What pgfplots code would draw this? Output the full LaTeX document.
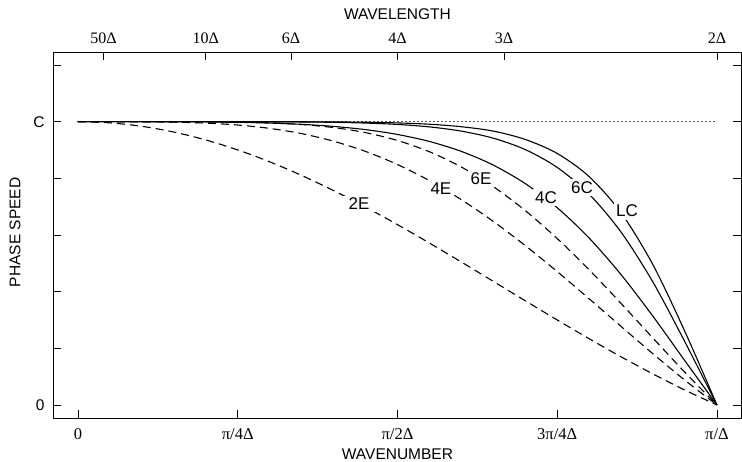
\documentclass[border=0pt]{standalone}
\usepackage{fontspec}
\setmainfont{Liberation Serif}
\setsansfont{Liberation Sans}
\usepackage{pgfplots}
\usepackage{pgfplotstable}
\pgfplotsset{compat=1.18}

\pgfplotstableread{
f    E2      E4      E6      C4      C6      LC
0.00 1.00000 1.00000 1.00000 1.00000 1.00000 1.00000
0.05 0.99589 0.99998 1.00000 0.99999 0.99999 1.00000
0.10 0.98363 0.99968 0.99999 0.99995 1.00000 1.00000
0.15 0.96340 0.99840 0.99992 0.99972 0.99999 1.00000
0.20 0.93549 0.99504 0.99959 0.99909 0.99996 0.99999
0.25 0.90032 0.98822 0.99851 0.99773 0.99988 0.99996
0.30 0.85839 0.97634 0.99579 0.99513 0.99963 0.99988
0.35 0.81033 0.95782 0.99003 0.99063 0.99903 0.99967
0.40 0.75683 0.93115 0.97933 0.98331 0.99773 0.99916
0.45 0.69865 0.89510 0.96139 0.97195 0.99514 0.99802
0.50 0.63662 0.84883 0.93370 0.95493 0.99030 0.99567
0.55 0.57162 0.79197 0.89389 0.93019 0.98162 0.99103
0.60 0.50455 0.72470 0.83998 0.89513 0.96668 0.98222
0.65 0.43633 0.64781 0.77080 0.84670 0.94176 0.96677
0.70 0.36788 0.56259 0.68625 0.78150 0.90149 0.93730
0.75 0.30011 0.47088 0.58749 0.69636 0.83855 0.88784
0.80 0.23387 0.37490 0.47695 0.58911 0.74411 0.80610
0.85 0.17001 0.27717 0.35824 0.45991 0.60993 0.67834
0.90 0.10929 0.18037 0.23584 0.31258 0.43300 0.49426
0.95 0.05242 0.08714 0.11476 0.15533 0.22188 0.25836
1.00 0.00000 0.00000 0.00000 0.00000 0.00000 0.00000
}\data

\tikzset{lbl/.style={fill=white, inner sep=2.5pt, font=\sffamily\fontsize{17}{17}\selectfont}}

\begin{document}
\begin{tikzpicture}
\useasboundingbox (-53pt,-44pt) rectangle (689pt,418pt);
\pgfplotsset{
  common/.style={
    at={(0,0)}, anchor=south west,
    scale only axis, width=688pt, height=366pt,
    xmin=-0.0391, xmax=1.0376, ymin=-0.0459, ymax=1.246,
    tick align=inside, major tick length=8pt,
    axis line style={line width=0.9pt},
    every tick/.style={line width=0.9pt, black},
  }
}
% top axis (wavelength)
\begin{axis}[common,
  xtick pos=right, xticklabel pos=right,
  ytick=\empty,
  xtick={0.04,0.2,0.333333,0.5,0.666667,1},
  xticklabels={50Δ,10Δ,6Δ,4Δ,3Δ,2Δ},
  xticklabel style={font=\rmfamily\fontsize{16}{16}\selectfont, yshift=4.5pt},
  xlabel={WAVELENGTH},
  xlabel style={font=\sffamily\fontsize{15.5}{15.5}\selectfont, at={(axis description cs:0.5007,1.104)}, anchor=center},
]
\addplot[draw=none] coordinates {(0,0)};
\end{axis}
% main axis
\begin{axis}[common,
  xtick pos=left, xticklabel pos=left,
  ytick pos=both, yticklabel pos=left,
  xtick={0,0.25,0.5,0.75,1},
  xticklabels={0,π/4Δ,π/2Δ,3π/4Δ,π/Δ},
  xticklabel style={font=\rmfamily\fontsize{16.5}{16.5}\selectfont, yshift=-7pt},
  ytick={0,0.2,0.4,0.6,0.8,1,1.2},
  yticklabels={0,,,,,C,},
  yticklabel style={font=\sffamily\fontsize{15.5}{15.5}\selectfont, xshift=-5pt},
  xlabel={WAVENUMBER},
  xlabel style={font=\sffamily\fontsize{15.5}{15.5}\selectfont, at={(axis description cs:0.5007,-0.0997)}, anchor=center},
  ylabel={PHASE SPEED},
  ylabel style={font=\sffamily\fontsize{15.5}{15.5}\selectfont, at={(axis description cs:-0.0552,0.507)}, anchor=center},
  every axis plot/.append style={line width=1.1pt, black},
]
\addplot[line width=1.5pt, line cap=round, dash pattern=on 0.1pt off 3.9pt] coordinates {(0,1) (1,1)};
\addplot[smooth, dash pattern=on 8pt off 5pt] table[x=f,y=E2]{\data};
\addplot[smooth, dash pattern=on 8pt off 5pt] table[x=f,y=E4]{\data};
\addplot[smooth, dash pattern=on 8pt off 5pt] table[x=f,y=E6]{\data};
\addplot[smooth] table[x=f,y=C4]{\data};
\addplot[smooth] table[x=f,y=C6]{\data};
\node[lbl, inner xsep=8pt] at (axis cs:0.4397,0.7095) {2E};
\node[lbl] at (axis cs:0.568,0.7624) {4E};
\node[lbl] at (axis cs:0.6307,0.7977) {6E};
\node[lbl] at (axis cs:0.7324,0.7307) {4C};
\node[lbl] at (axis cs:0.7887,0.7660) {6C};
\addplot[smooth] table[x=f,y=LC]{\data};
\node[lbl] at (axis cs:0.8592,0.6848) {LC};
\end{axis}
\end{tikzpicture}
\end{document}
